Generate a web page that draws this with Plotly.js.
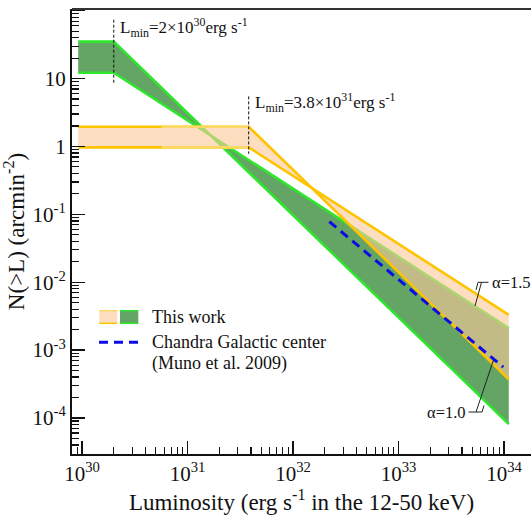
<!DOCTYPE html>
<html>
<head>
<meta charset="utf-8">
<script src="https://cdn.plot.ly/plotly-3.0.1.min.js"></script>
<style>html,body{margin:0;padding:0;background:#fff;}#chart{width:531px;height:515px;}</style>
</head>
<body>
<div id="chart"></div>
<script>
// ---- data ----
// green band (this work, L_min = 2e30)
var greenL      = [9.2e29, 2e30, 1.11e34];
var greenUpperN = [35, 35, 8.1e-5];     // steep edge (starts high, ends low)
var greenLowerN = [12.2, 12.2, 2.1e-3]; // shallow edge (starts low, ends high)
// orange band (this work, L_min = 3.8e31)
var orangeL      = [9.2e29, 3.8e31, 1.11e34];
var orangeUpperN = [1.95, 1.95, 3.7e-4];
var orangeLowerN = [0.97, 0.97, 3.3e-3];
var orangeLightL = [5.7e30, 3.8e31];      // lighter-drawn part of the flat edges
// Chandra Galactic center (Muno et al. 2009)
var chandraL = [2.21e32, 9.85e33];
var chandraN = [0.078, 5.6e-4];
// L_min markers
var lmin1L = [2e30, 2e30],     lmin1N = [73.6, 8.4];
var lmin2L = [3.8e31, 3.8e31], lmin2N = [5.46, 0.78];
// tick labels
var xTickVals = [1e30, 1e31, 1e32, 1e33, 1e34];
var xTickText = ['10<sup>30</sup>', '10<sup>31</sup>', '10<sup>32</sup>', '10<sup>33</sup>', '10<sup>34</sup>'];
var yTickVals = [1e2, 1e1, 1, 1e-1, 1e-2, 1e-3, 1e-4];
var yTickText = ['10<sup>2</sup>', '10', '1', '10<sup>-1</sup>', '10<sup>-2</sup>', '10<sup>-3</sup>', '10<sup>-4</sup>'];

function minorVals(d0, d1) {
  var v = [];
  for (var d = d0; d <= d1; d++) for (var k = 2; k <= 9; k++) v.push(k * Math.pow(10, d));
  return v;
}

var FONT = '"Liberation Serif", "Times New Roman", serif';
var GREEN_FILL = '#64a464', LIME = '#2ee62e';
var ORANGE_FILL = 'rgba(251,202,153,0.62)', GOLD = '#ffc400', GOLD_LIGHT = '#ffd966';
var BLUE = '#0b0be6';

function polyX(L) { return [L[0], L[1], L[2], L[2], L[1], L[0]]; }
function polyY(a, b) { return [a[0], a[1], a[2], b[2], b[1], b[0]]; }

var traces = [
  {x: polyX(greenL), y: polyY(greenUpperN, greenLowerN), mode: 'lines', fill: 'toself',
   fillcolor: GREEN_FILL, line: {width: 0}, hoverinfo: 'skip', showlegend: false},
  {x: greenL, y: greenUpperN, mode: 'lines', line: {color: LIME, width: 2.6}, hoverinfo: 'skip', showlegend: false},
  {x: greenL, y: greenLowerN, mode: 'lines', line: {color: LIME, width: 2.6}, hoverinfo: 'skip', showlegend: false},
  {x: polyX(orangeL), y: polyY(orangeUpperN, orangeLowerN), mode: 'lines', fill: 'toself',
   fillcolor: ORANGE_FILL, line: {width: 0}, hoverinfo: 'skip', showlegend: false},
  {x: orangeL, y: orangeUpperN, mode: 'lines', line: {color: GOLD, width: 2.6}, hoverinfo: 'skip', showlegend: false},
  {x: orangeL, y: orangeLowerN, mode: 'lines', line: {color: GOLD, width: 2.6}, hoverinfo: 'skip', showlegend: false},
  {x: orangeLightL, y: [orangeUpperN[0], orangeUpperN[1]], mode: 'lines', line: {color: GOLD_LIGHT, width: 2.6}, hoverinfo: 'skip', showlegend: false},
  {x: orangeLightL, y: [orangeLowerN[0], orangeLowerN[1]], mode: 'lines', line: {color: GOLD_LIGHT, width: 2.6}, hoverinfo: 'skip', showlegend: false},
  {x: chandraL, y: chandraN, mode: 'lines', line: {color: BLUE, width: 3, dash: '9px,6px'}, hoverinfo: 'skip', showlegend: false},
  {x: lmin1L, y: lmin1N, mode: 'lines', line: {color: '#111', width: 1, dash: '3px,2px'}, hoverinfo: 'skip', showlegend: false},
  {x: lmin2L, y: lmin2N, mode: 'lines', line: {color: '#111', width: 1, dash: '3px,2px'}, hoverinfo: 'skip', showlegend: false}
];

// pixel -> paper helpers for decorations (plot area: x 72..531, y 9..454)
function px(v) { return (v - 72) / 459; }
function py(v) { return (454 - v) / 445; }

var shapes = [
  // top frame line
  {type: 'line', xref: 'paper', yref: 'paper', x0: 0, x1: 1, y0: 1, y1: 1, line: {color: '#333', width: 2}},
  // legend swatches
  {type: 'rect', xref: 'paper', yref: 'paper', x0: px(99.3), x1: px(117.3), y0: py(323.3), y1: py(310.7), fillcolor: '#fddec0', line: {width: 0}},
  {type: 'line', xref: 'paper', yref: 'paper', x0: px(99.3), x1: px(117.3), y0: py(310.7), y1: py(310.7), line: {color: GOLD_LIGHT, width: 1.5}},
  {type: 'line', xref: 'paper', yref: 'paper', x0: px(99.3), x1: px(117.3), y0: py(323.3), y1: py(323.3), line: {color: GOLD, width: 1.5}},
  {type: 'rect', xref: 'paper', yref: 'paper', x0: px(120), x1: px(138.3), y0: py(323.3), y1: py(310.7), fillcolor: GREEN_FILL, line: {width: 0}},
  {type: 'line', xref: 'paper', yref: 'paper', x0: px(120), x1: px(138.3), y0: py(310.7), y1: py(310.7), line: {color: LIME, width: 1.5}},
  {type: 'line', xref: 'paper', yref: 'paper', x0: px(120), x1: px(138.3), y0: py(323.3), y1: py(323.3), line: {color: LIME, width: 1.5}},
  {type: 'line', xref: 'paper', yref: 'paper', x0: px(99), x1: px(138.5), y0: py(342.3), y1: py(342.3), line: {color: BLUE, width: 3, dash: '9px,6px'}},
  // alpha leader lines
  {type: 'path', xref: 'paper', yref: 'paper',
   path: 'M ' + px(488.5) + ',' + py(282.3) + ' L ' + px(478) + ',' + py(282.3) + ' L ' + px(476) + ',' + py(290) +
         ' M ' + px(481.5) + ',' + py(282.3) + ' L ' + px(475) + ',' + py(306),
   line: {color: '#222', width: 1}},
  {type: 'path', xref: 'paper', yref: 'paper',
   path: 'M ' + px(468.5) + ',' + py(412) + ' L ' + px(482) + ',' + py(412) + ' L ' + px(484) + ',' + py(405.5) +
         ' M ' + px(476) + ',' + py(412) + ' L ' + px(493.5) + ',' + py(360),
   line: {color: '#222', width: 1}}
];

var annotations = [
  {xref: 'x', yref: 'paper', x: Math.log10(lmin1L[0]), y: py(27), xanchor: 'left', yanchor: 'middle', xshift: 4, showarrow: false,
   text: 'L<sub>min</sub>=2×10<sup>30</sup>erg s<sup>-1</sup>', font: {family: FONT, size: 17, color: '#111'}},
  {xref: 'x', yref: 'paper', x: Math.log10(lmin2L[0]), y: py(103), xanchor: 'left', yanchor: 'middle', xshift: 4, showarrow: false,
   text: 'L<sub>min</sub>=3.8×10<sup>31</sup>erg s<sup>-1</sup>', font: {family: FONT, size: 17, color: '#111'}},
  {xref: 'paper', yref: 'paper', x: px(489.5), y: py(282.3), xanchor: 'left', yanchor: 'middle', showarrow: false,
   text: 'α=1.5', font: {family: FONT, size: 16.5, color: '#111'}},
  {xref: 'paper', yref: 'paper', x: px(468), y: py(412), xanchor: 'right', yanchor: 'middle', showarrow: false,
   text: 'α=1.0', font: {family: FONT, size: 16.5, color: '#111'}},
  {xref: 'paper', yref: 'paper', x: px(150), y: py(316.7), xanchor: 'left', yanchor: 'middle', showarrow: false,
   text: 'This work', font: {family: FONT, size: 18, color: '#111'}},
  {xref: 'paper', yref: 'paper', x: px(150), y: py(341.7), xanchor: 'left', yanchor: 'middle', showarrow: false,
   text: 'Chandra Galactic center', font: {family: FONT, size: 18, color: '#111'}},
  {xref: 'paper', yref: 'paper', x: px(150), y: py(363), xanchor: 'left', yanchor: 'middle', showarrow: false,
   text: '(Muno et al. 2009)', font: {family: FONT, size: 18, color: '#111'}}
];

var layout = {
  width: 531, height: 515,
  margin: {l: 72, r: 0, t: 9, b: 61, pad: 0},
  paper_bgcolor: '#fff', plot_bgcolor: '#fff',
  showlegend: false,
  font: {family: FONT, color: '#111'},
  xaxis: {
    type: 'log', range: [29.905, 34.256], fixedrange: true,
    tickmode: 'array', tickvals: xTickVals, ticktext: xTickText,
    ticks: 'inside', ticklen: 13, tickwidth: 1.3, tickcolor: '#111',
    tickfont: {family: FONT, size: 21, color: '#111'},
    showline: true, linecolor: '#111', linewidth: 2,
    showgrid: false, zeroline: false,
    minor: {tickmode: 'array', tickvals: minorVals(29, 34), ticks: 'inside', ticklen: 7, tickwidth: 1.2, tickcolor: '#111', showgrid: false},
    title: {text: 'Luminosity (erg s<sup>-1</sup> in the 12-50 keV)', font: {family: FONT, size: 23, color: '#111'}, standoff: 6}
  },
  yaxis: {
    type: 'log', range: [-4.531, 2.025], fixedrange: true,
    tickmode: 'array', tickvals: yTickVals, ticktext: yTickText,
    ticks: 'inside', ticklen: 13, tickwidth: 1.3, tickcolor: '#111',
    tickfont: {family: FONT, size: 21, color: '#111'},
    showline: true, linecolor: '#111', linewidth: 2,
    showgrid: false, zeroline: false,
    minor: {tickmode: 'array', tickvals: minorVals(-5, 2), ticks: 'inside', ticklen: 7, tickwidth: 1.2, tickcolor: '#111', showgrid: false},
    title: {text: 'N(>L) (arcmin<sup>-2</sup>)', font: {family: FONT, size: 23, color: '#111'}, standoff: 2}
  },
  shapes: shapes,
  annotations: annotations
};

Plotly.newPlot('chart', traces, layout, {staticPlot: true, displayModeBar: false});
</script>
</body>
</html>
